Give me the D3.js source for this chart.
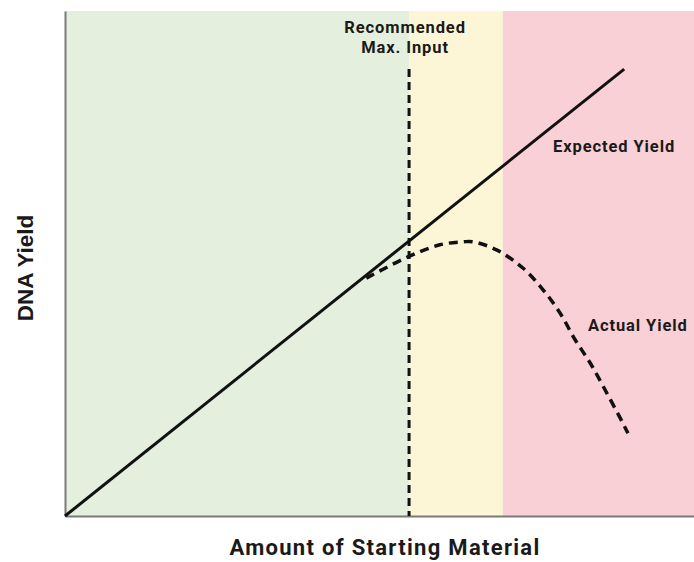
<!DOCTYPE html>
<html>
<head>
<meta charset="utf-8">
<script src="https://cdn.jsdelivr.net/npm/d3@7"></script>
<style>
  body { margin: 0; background: #fff; }
  svg text { font-family: Roboto, "Noto Sans", sans-serif; font-weight: 700; fill: #1a1a1a; }
</style>
</head>
<body>
<div id="chart"></div>
<script>
const width = 694, height = 562;
const margin = { top: 11, right: 0, bottom: 46, left: 65 };

// zones along the x axis (arbitrary units, 0..100)
const zones = [
  { name: "safe", x0: 0, x1: 54.7, color: "#e4efdd" },
  { name: "caution", x0: 54.7, x1: 69.6, color: "#fdf6d6" },
  { name: "over", x0: 69.6, x1: 100, color: "#f9d0d5" }
];
const recommendedMax = 54.7;

// expected yield: straight line
const expected = [
  { x: 0, y: 0 },
  { x: 88.9, y: 88.5 }
];

// actual yield
const actual = [
  { x: 47.9, y: 47.1 },
  { x: 54.5, y: 51.3 },
  { x: 59.6, y: 53.7 },
  { x: 63.3, y: 54.3 },
  { x: 64.9, y: 54.3 },
  { x: 68.6, y: 52.7 },
  { x: 72.8, y: 49.1 },
  { x: 76.0, y: 44.8 },
  { x: 78.7, y: 40.2 },
  { x: 81.1, y: 34.9 },
  { x: 83.5, y: 30.3 },
  { x: 85.9, y: 24.9 },
  { x: 88.6, y: 18.6 },
  { x: 89.5, y: 16.4 }
];

const svg = d3.select("#chart").append("svg")
  .attr("width", width)
  .attr("height", height);

const x = d3.scaleLinear().domain([0, 100]).range([margin.left, width - margin.right]);
const y = d3.scaleLinear().domain([0, 100]).range([height - margin.bottom, margin.top]);

// background zones
svg.append("g").selectAll("rect")
  .data(zones)
  .join("rect")
  .attr("x", d => x(d.x0))
  .attr("width", d => x(d.x1) - x(d.x0))
  .attr("y", y(100))
  .attr("height", y(0) - y(100))
  .attr("fill", d => d.color);

// axes (no ticks, just the lines)
const xAxis = d3.axisBottom(x).tickValues([]).tickSizeOuter(0);
const yAxis = d3.axisLeft(y).tickValues([]).tickSizeOuter(0);
svg.append("g")
  .attr("transform", `translate(0,${y(0)})`)
  .call(xAxis)
  .call(g => g.select(".domain").attr("stroke", "#7a7a7a").attr("stroke-width", 2));
svg.append("g")
  .attr("transform", `translate(${x(0)},0)`)
  .call(yAxis)
  .call(g => g.select(".domain").attr("stroke", "#7a7a7a").attr("stroke-width", 2));

// recommended max input marker
svg.append("line")
  .attr("x1", x(recommendedMax)).attr("x2", x(recommendedMax))
  .attr("y1", y(88.5)).attr("y2", y(0))
  .attr("stroke", "#111")
  .attr("stroke-width", 3)
  .attr("stroke-dasharray", "8,5");

const line = d3.line().x(d => x(d.x)).y(d => y(d.y));

svg.append("path")
  .datum(expected)
  .attr("d", line)
  .attr("fill", "none")
  .attr("stroke", "#111")
  .attr("stroke-width", 3);

svg.append("path")
  .datum(actual)
  .attr("d", line.curve(d3.curveCatmullRom))
  .attr("fill", "none")
  .attr("stroke", "#111")
  .attr("stroke-width", 3.5)
  .attr("stroke-dasharray", "9,6");

// labels
const labels = svg.append("g").attr("font-size", 16.5).attr("letter-spacing", 0.9);
labels.append("text")
  .attr("x", x(recommendedMax) - 4).attr("y", 33)
  .attr("text-anchor", "middle")
  .text("Recommended");
labels.append("text")
  .attr("x", x(recommendedMax) - 4).attr("y", 53)
  .attr("text-anchor", "middle")
  .text("Max. Input");
labels.append("text")
  .attr("x", 553).attr("y", 152)
  .text("Expected Yield");
labels.append("text")
  .attr("x", 588).attr("y", 331)
  .text("Actual Yield");

svg.append("text")
  .attr("x", 385)
  .attr("y", 555)
  .attr("text-anchor", "middle")
  .attr("font-size", 22)
  .attr("letter-spacing", 1.3)
  .text("Amount of Starting Material");

svg.append("text")
  .attr("transform", `translate(33,${268}) rotate(-90)`)
  .attr("text-anchor", "middle")
  .attr("font-size", 22.5)
  .style("font-family", "'Liberation Sans', Arial, sans-serif")
  .text("DNA Yield");
</script>
</body>
</html>
